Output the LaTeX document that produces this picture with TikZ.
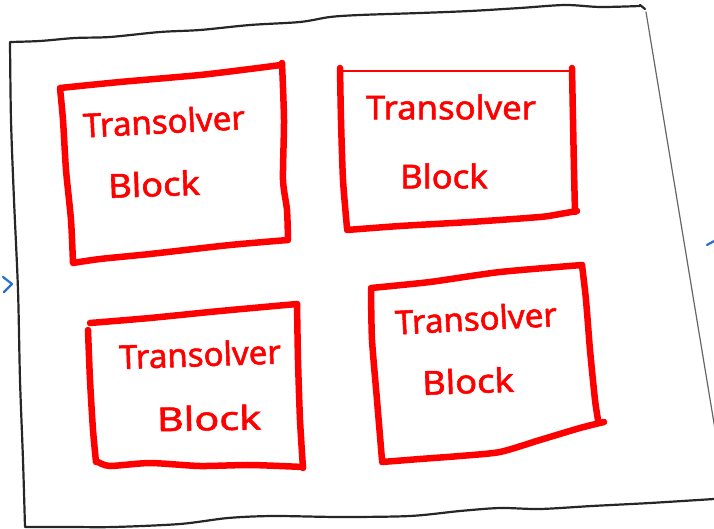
\documentclass[tikz,border=0pt]{standalone}
\usepackage{fontspec}
\setmainfont{Noto Sans}
\newfontfamily\handfont[FakeBold=1.6]{Noto Sans}
\definecolor{pen}{RGB}{255,0,0}
\definecolor{bluepen}{RGB}{40,110,215}
\begin{document}
\begin{tikzpicture}[x=1pt,y=-1pt,
  frame/.style={line width=2.2pt,black!85,line cap=round,line join=round},
  thinframe/.style={line width=1.2pt,black!60,line cap=round},
  redthick/.style={line width=6.5pt,pen,line cap=round,line join=round},
  redthin/.style={line width=2pt,pen,line cap=round},
  lbl/.style={text=pen,font=\handfont\fontsize{33}{36}\selectfont,inner sep=0pt}]
\useasboundingbox (0,0) rectangle (714,529);
\clip (0,0) rectangle (714,529);
% outer sheet
\draw[frame] plot[smooth,tension=0.5] coordinates {(640,6) (600,7) (565,5) (520,8) (470,11) (420,13) (360,15) (330,17) (300,22) (250,25) (200,30) (160,32) (110,37) (75,38) (40,41) (10,42)}
  -- plot[smooth,tension=0.5] coordinates {(10,42) (11,120) (14,200) (18,290) (20,380) (23,460) (25,527)}
  -- plot[smooth,tension=0.5] coordinates {(25,527) (70,527) (114,527) (180,524) (228,518) (273,516) (340,517) (410,516) (460,511) (500,508) (540,509) (592,506) (650,503) (714,499)};
\draw[frame] (640,5) -- (645,9);
\draw[thinframe] (646,12) -- (730,520);
% blue marks
\draw[bluepen,line width=2.2pt,line cap=round,line join=round] (3,277) -- (12,284) -- (4,292);
\draw[bluepen,line width=2.2pt,line cap=round] (707,245) -- (716,240);
% box 1
\draw[redthick] plot[smooth,tension=0.4] coordinates {(60,88) (120,82) (200,75) (250,69) (281,65)}
  -- (282,63) -- plot[smooth,tension=0.4] coordinates {(282,63) (284,120) (283,180) (287,210) (288,240)}
  -- plot[smooth,tension=0.4] coordinates {(288,240) (230,245) (150,254) (100,259) (73,263)}
  -- plot[smooth,tension=0.4] coordinates {(73,263) (71,220) (66,170) (63,120) (60,88)};
\node[lbl,rotate=3] (t1) at (164,121) {Transolver};
\node[lbl,rotate=2,xscale=1.1] (b1) at (154,184) {Block};
% box 2
\draw[redthin] (341,71) -- (572,71);
\draw[redthin] (572,68) -- (572,76);
\draw[redthick] plot[smooth,tension=0.4] coordinates {(340,68) (341,120) (343,180) (347,228)};
\draw[redthick] plot[smooth,tension=0.4] coordinates {(347,230) (400,226) (470,222) (540,217) (560,214) (577,211)};
\draw[redthick] plot[smooth,tension=0.4] coordinates {(572,68) (573,120) (574,170) (575,212)};
\node[lbl,xscale=1.05] (t2) at (451,107) {Transolver};
\node[lbl,xscale=1.05] (b2) at (444,176) {Block};
% box 3
\draw[redthick] plot[smooth,tension=0.4] coordinates {(90,323) (150,318) (220,311) (297,304)};
\draw[redthick] plot[smooth,tension=0.4] coordinates {(297,304) (298,360) (300,420) (303,468)};
\draw[redthick] plot[smooth,tension=0.4] coordinates {(303,467) (250,465) (200,466) (150,463) (110,466) (98,462)};
\draw[redthick] plot[smooth,tension=0.4] coordinates {(88,330) (90,380) (93,430) (96,462)};
\node[lbl,rotate=2] (t3) at (200,354) {Transolver};
\node[lbl,rotate=1,xscale=1.25] (b3) at (209,418) {Block};
% box 4
\draw[redthick] plot[smooth,tension=0.4] coordinates {(371,288) (430,282) (500,272) (582,265)};
\draw[redthick] plot[smooth,tension=0.4] coordinates {(582,265) (586,300) (590,350) (595,400) (598,420)};
\draw[redthick] plot[smooth,tension=0.4] coordinates {(604,422) (580,428) (540,440) (500,452) (460,456) (420,459) (382,462)};
\draw[redthick] plot[smooth,tension=0.4] coordinates {(371,290) (372,340) (377,400) (382,460)};
\node[lbl,rotate=3] (t4) at (476,318) {Transolver};
\node[lbl,rotate=2,xscale=1.1] (b4) at (468,381) {Block};
\end{tikzpicture}
\end{document}
